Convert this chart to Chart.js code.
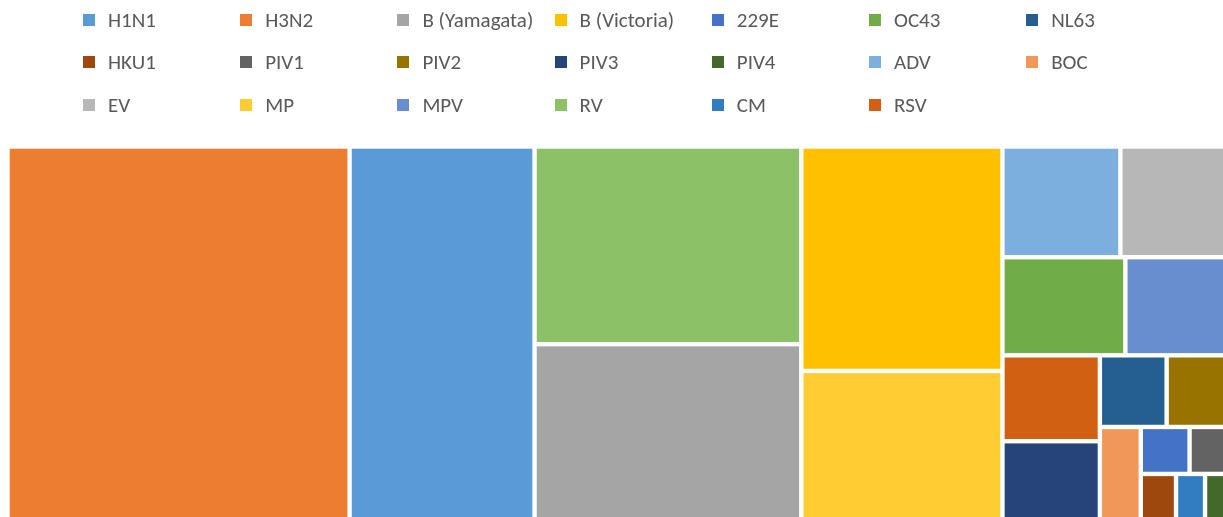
<!DOCTYPE html>
<html><head><meta charset="utf-8">
<script src="https://cdn.jsdelivr.net/npm/chart.js@4.4.1/dist/chart.umd.min.js"></script>
<style>
html,body{margin:0;padding:0;background:#fff;overflow:hidden;width:1223px;height:517px}
#wrap{position:relative;width:1240px;height:530px}
#c{position:absolute;left:0;top:0}
#legend{position:absolute;left:0;top:0;width:1240px;height:130px;font-family:"Carlito","Liberation Sans",Arial,sans-serif;font-size:21px;color:#595959}
.li{position:absolute;display:flex;align-items:center;white-space:nowrap;height:24px;line-height:24px}
.li .box{display:inline-block;width:12px;height:12px;margin-right:13px;flex:none}
</style></head><body>
<div id="wrap"><canvas id="c" width="1240" height="530"></canvas><div id="legend"></div></div>
<script>
// Categories (legend order), values and colours
const categories = ["H1N1","H3N2","B (Yamagata)","B (Victoria)","229E","OC43","NL63",
                    "HKU1","PIV1","PIV2","PIV3","PIV4","ADV","BOC",
                    "EV","MP","MPV","RV","CM","RSV"];
const values = [697,1289,476,453,23,121,48,
                17,20,47,79,13,131,39,
                124,305,105,529,14,84];
const colors = ["#5B9BD5","#ED7D31","#A5A5A5","#FFC000","#4472C4","#70AD47","#255E91",
                "#9E480E","#636363","#997300","#264478","#43682B","#7CAFDD","#F1975A",
                "#B7B7B7","#FFCD33","#698ED0","#8CC168","#327DC2","#D26012"];

// Squarified layout (with hysteresis) computed in data units [0,1]x[0,1]
function squarify(vals, sx, sy, k){
  const items = vals.map((v,i)=>({v,i})).sort((a,b)=>b.v-a.v);
  const total = vals.reduce((a,b)=>a+b,0);
  const area = sx*sy;
  items.forEach(it=>it.a = it.v/total*area);
  let rx=0, ry=0, rw=sx, rh=sy;
  const out = [];
  function worst(row, side){
    const s=row.reduce((a,r)=>a+r.a,0); const t=s/side; let w=0;
    row.forEach(r=>{const len=r.a/t; w=Math.max(w, t/len, len/t);});
    return w;
  }
  let idx=0;
  while(idx<items.length){
    const vertical = rw>=rh;
    const side = vertical? rh: rw;
    let row=[items[idx]]; idx++;
    let cur=worst(row, side);
    while(idx<items.length){
      const test=worst(row.concat([items[idx]]), side);
      if(test < cur*k){ row.push(items[idx]); idx++; cur=test; } else break;
    }
    const s=row.reduce((a,r)=>a+r.a,0); const t=s/side;
    let off=0;
    row.forEach(r=>{
      const len=r.a/t;
      if(vertical){ out.push({i:r.i,x:rx,y:ry+off,w:t,h:len}); }
      else { out.push({i:r.i,x:rx+off,y:ry,w:len,h:t}); }
      off+=len;
    });
    if(vertical){ rx+=t; rw-=t; } else { ry+=t; rh-=t; }
  }
  return out.map(r=>({i:r.i, x0:r.x/sx, x1:(r.x+r.w)/sx, y0:r.y/sy, y1:(r.y+r.h)/sy}));
}

const treemapPlugin = {
  id:'treemap',
  afterDatasetsDraw(chart){
    const xs=chart.scales.x, ys=chart.scales.y, ctx=chart.ctx;
    const sx=Math.abs(xs.getPixelForValue(1)-xs.getPixelForValue(0));
    const sy=Math.abs(ys.getPixelForValue(1)-ys.getPixelForValue(0));
    const cells=squarify(values, sx, sy, 0.7);
    const g=2.2;
    ctx.save();
    cells.forEach(c=>{
      const px0=xs.getPixelForValue(c.x0), px1=xs.getPixelForValue(c.x1);
      const py0=ys.getPixelForValue(c.y0), py1=ys.getPixelForValue(c.y1);
      ctx.fillStyle=chart.data.datasets[c.i].backgroundColor;
      ctx.fillRect(px0+g, py0+g, (px1-px0)-2*g, (py1-py0)-2*g);
    });
    ctx.restore();
  }
};

const htmlLegend = {
  id:'htmlLegend',
  afterUpdate(chart){
    const el=document.getElementById('legend'); el.innerHTML='';
    chart.data.datasets.forEach((ds,i)=>{
      const col=i%7, row=Math.floor(i/7);
      const d=document.createElement('div'); d.className='li';
      d.style.left=(83+col*157.2)+'px'; d.style.top=(20+row*42.25-12)+'px';
      const b=document.createElement('span'); b.className='box'; b.style.background=ds.backgroundColor;
      const t=document.createElement('span'); t.textContent=ds.label;
      d.appendChild(b); d.appendChild(t); el.appendChild(d);
    });
  }
};

new Chart(document.getElementById('c'), {
  type:'scatter',
  data:{datasets: categories.map((c,i)=>({label:c, data:[], backgroundColor:colors[i], borderColor:colors[i]}))},
  options:{
    responsive:false, animation:false,
    layout:{padding:{left:7.5,right:8,top:146.5,bottom:8}},
    scales:{
      x:{type:'linear',min:0,max:1,display:false},
      y:{type:'linear',min:0,max:1,reverse:true,display:false}
    },
    plugins:{legend:{display:false},tooltip:{enabled:false}}
  },
  plugins:[treemapPlugin, htmlLegend]
});
</script>
</body></html>
